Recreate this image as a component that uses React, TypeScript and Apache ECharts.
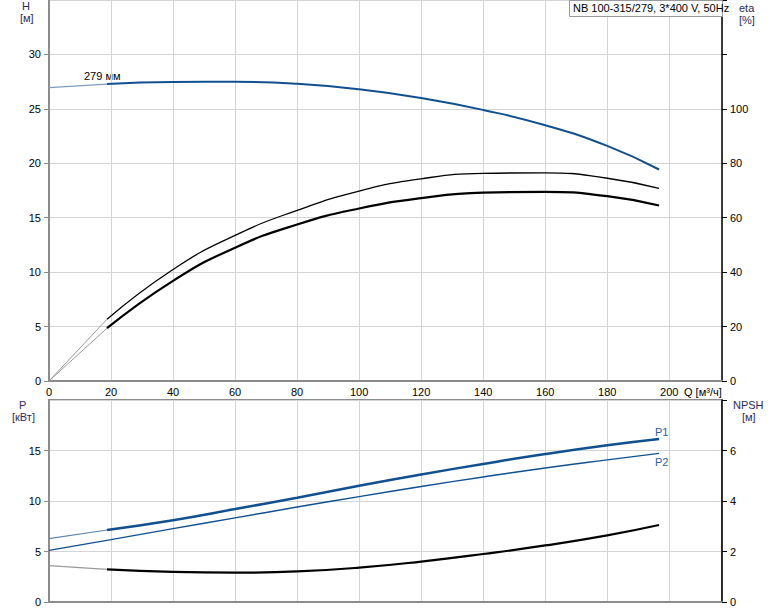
import React, { useEffect, useRef } from "react";
import * as echarts from "echarts";

// ---- data ----
const qStart = [0, 18.7];
const hStart = [26.95, 27.28];
const qHead = [18.7, 40, 60, 80, 100, 120, 140, 160, 180, 196.7];
const hHead = [27.28, 27.47, 27.48, 27.3, 26.8, 26.0, 24.9, 23.5, 21.6, 19.43];

const etaUpperStart = [0, 22.7];
const etaLowerStart = [0, 19.4];
const qEta = [18.7, 40, 60, 80, 100, 120, 140, 160, 180, 196.7];
const etaUpper = [22.7, 41.0, 53.5, 62.7, 69.8, 74.3, 76.3, 76.5, 74.5, 70.8];
const etaLower = [19.4, 36.8, 49.0, 57.5, 63.4, 67.2, 69.2, 69.5, 67.9, 64.5];

const p1Start = [6.27, 7.13];
const qP1 = [18.7, 40, 60, 80, 100, 120, 140, 160, 180, 196.7];
const p1 = [7.13, 8.1, 9.2, 10.33, 11.5, 12.62, 13.67, 14.65, 15.52, 16.14];

const qP2 = [0, 20, 40, 60, 80, 100, 120, 140, 160, 180, 196.7];
const p2 = [5.11, 6.17, 7.27, 8.33, 9.4, 10.43, 11.43, 12.38, 13.27, 14.07, 14.71];

const npshStart = [1.44, 1.29];
const qNpsh = [18.7, 40, 60, 80, 100, 120, 140, 160, 180, 196.7];
const npsh = [1.29, 1.19, 1.16, 1.21, 1.36, 1.6, 1.9, 2.24, 2.64, 3.05];

const xTicks = { min: 0, max: 217, interval: 20 };
const title = "NB 100-315/279, 3*400 V, 50Hz";

const zip = (xs: number[], ys: number[]) => xs.map((x, i) => [x, ys[i]]);

const FONT = 'Arial, "Liberation Sans", sans-serif';
const BLUE = "#11508f";
const LBLUE = "#1f62a8";
const GRID = "#d4d4d4";
const AXGRAY = "#8c8c8c";

export default function App() {
  const ref = useRef<HTMLDivElement>(null);
  useEffect(() => {
    if (!ref.current) return;
    const chart = echarts.init(ref.current, null, { renderer: "svg" });
    const labelStyle = { color: "#000", fontSize: 11, fontFamily: FONT };
    const xBase = (grid: number, showLabel: boolean) => ({
      type: "value",
      gridIndex: grid,
      min: xTicks.min,
      max: xTicks.max,
      interval: xTicks.interval,
      axisLine: { show: true, lineStyle: { color: AXGRAY, width: 2 } },
      axisTick: { show: false },
      axisLabel: { show: showLabel, ...labelStyle, margin: 5, showMaxLabel: false },
      splitLine: { show: true, lineStyle: { color: GRID, width: 1 } },
    });
    const yLeft = (grid: number, max: number, interval: number) => ({
      type: "value",
      gridIndex: grid,
      position: "left",
      min: 0,
      max,
      interval,
      axisLine: { show: true, lineStyle: { color: AXGRAY, width: 2 } },
      axisTick: { show: true, length: 5, lineStyle: { color: AXGRAY } },
      axisLabel: { ...labelStyle, margin: 8, showMaxLabel: false },
      splitLine: { show: true, lineStyle: { color: GRID, width: 1 } },
    });
    const yRight = (grid: number, max: number, interval: number, labelMax: number) => ({
      type: "value",
      gridIndex: grid,
      position: "right",
      min: 0,
      max,
      interval,
      axisLine: { show: true, lineStyle: { color: "#000", width: 1.5 } },
      axisTick: { show: true, length: 5, lineStyle: { color: "#000" } },
      axisLabel: {
        ...labelStyle,
        margin: 8,
        formatter: (v: number) => (v > labelMax ? "" : String(v)),
      },
      splitLine: { show: false },
    });
    const line = (
      data: number[][],
      x: number,
      y: number,
      color: string,
      width: number,
      smooth: number | boolean = 0.5
    ) => ({
      type: "line",
      xAxisIndex: x,
      yAxisIndex: y,
      data,
      smooth,
      symbol: "none",
      lineStyle: { color, width },
      silent: true,
    });

    chart.setOption({
      animation: false,
      grid: [
        { left: 49, right: 52, top: 0, height: 381 },
        {
          left: 49,
          right: 52,
          top: 400,
          height: 202,
          show: true,
          borderColor: AXGRAY,
          borderWidth: 2,
          backgroundColor: "transparent",
        },
      ],
      xAxis: [xBase(0, true), xBase(1, false)],
      yAxis: [
        yLeft(0, 35, 5),
        yRight(0, 140, 20, 100),
        yLeft(1, 20, 5),
        yRight(1, 8, 2, 6),
      ],
      series: [
        line(zip(qStart, hStart), 0, 0, "#7f9dbd", 1.2, false),
        line(zip(qHead, hHead), 0, 0, BLUE, 2),
        line(zip(qStart, etaUpperStart), 0, 1, "#999", 1, false),
        line(zip(qStart, etaLowerStart), 0, 1, "#999", 1, false),
        line(zip(qEta, etaUpper), 0, 1, "#000", 1.3),
        line(zip(qEta, etaLower), 0, 1, "#000", 2.2),
        line(zip(qStart, p1Start), 1, 2, "#5f86b3", 1.2, false),
        line(zip(qP1, p1), 1, 2, BLUE, 2.5),
        line(zip(qP2, p2), 1, 2, BLUE, 1.4),
        line(zip(qStart, npshStart), 1, 3, "#999", 1.2, false),
        line(zip(qNpsh, npsh), 1, 3, "#000", 2.2),
      ],
      graphic: [
        { type: "text", left: 22, top: 0, style: { text: "H", fill: "#2b2b5e", font: `11px ${FONT}` } },
        { type: "text", left: 20, top: 12, style: { text: "[м]", fill: "#2b2b5e", font: `11px ${FONT}` } },
        { type: "text", left: 739, top: 2, style: { text: "eta", fill: "#2b2b5e", font: `11px ${FONT}` } },
        { type: "text", left: 739, top: 14, style: { text: "[%]", fill: "#2b2b5e", font: `11px ${FONT}` } },
        { type: "text", left: 19, top: 399, style: { text: "P", fill: "#2b2b5e", font: `11px ${FONT}` } },
        { type: "text", left: 12, top: 411, style: { text: "[кВт]", fill: "#2b2b5e", font: `11px ${FONT}` } },
        { type: "text", left: 733, top: 399, style: { text: "NPSH", fill: "#2b2b5e", font: `11px ${FONT}` } },
        { type: "text", left: 742, top: 411, style: { text: "[м]", fill: "#2b2b5e", font: `11px ${FONT}` } },
        { type: "text", left: 684, top: 386, style: { text: "Q [м³/ч]", fill: "#000", font: `11px ${FONT}` } },
        { type: "text", left: 84, top: 70, style: { text: "279 мм", fill: "#000", font: `11px ${FONT}` } },
        { type: "text", left: 655, top: 426, style: { text: "P1", fill: LBLUE, font: `11px ${FONT}` } },
        { type: "text", left: 655, top: 456, style: { text: "P2", fill: LBLUE, font: `11px ${FONT}` } },
        {
          type: "rect",
          shape: { x: 569.5, y: 0.5, width: 153, height: 16 },
          style: { fill: "#fff", stroke: "#999", lineWidth: 1 },
          z: 10,
        },
        {
          type: "text",
          left: 573,
          top: 2,
          z: 11,
          style: { text: title, fill: "#000", font: `11px ${FONT}` },
        },
      ],
    });
    return () => chart.dispose();
  }, []);
  return (
    <div
      ref={ref}
      style={{ position: "fixed", left: 0, top: 0, width: 774, height: 611, background: "#fff" }}
    />
  );
}
